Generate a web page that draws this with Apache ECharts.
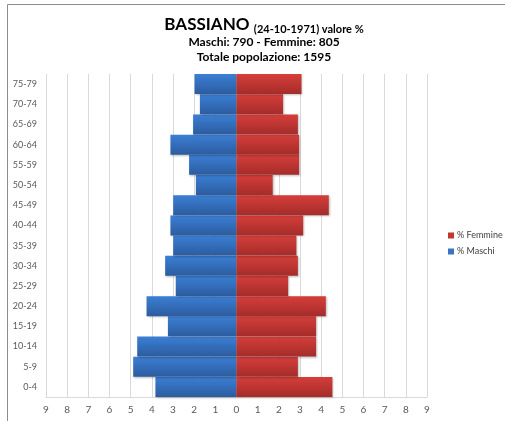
<!DOCTYPE html>
<html>
<head>
<meta charset="utf-8">
<script src="https://cdn.jsdelivr.net/npm/echarts@6/dist/echarts.min.js"></script>
<style>
  html, body { margin: 0; padding: 0; background: #fff; }
  #chart { width: 505px; height: 421px; }
</style>
</head>
<body>
<div id="chart"></div>
<script>
// Age groups, bottom to top
const ageGroups = ['0-4', '5-9', '10-14', '15-19', '20-24', '25-29', '30-34', '35-39',
  '40-44', '45-49', '50-54', '55-59', '60-64', '65-69', '70-74', '75-79'];
// Share of total population (%) per age group
const maschi = [3.83, 4.88, 4.69, 3.24, 4.25, 2.87, 3.37, 2.99,
  3.12, 2.99, 1.92, 2.24, 3.12, 2.05, 1.73, 1.98];
const femmine = [4.53, 2.90, 3.76, 3.76, 4.22, 2.44, 2.90, 2.83,
  3.15, 4.36, 1.71, 2.96, 2.96, 2.90, 2.20, 3.07];
const xTicks = [-9, -8, -7, -6, -5, -4, -3, -2, -1, 0, 1, 2, 3, 4, 5, 6, 7, 8, 9];

const FONT = 'Lato, "Open Sans", sans-serif';

function grad(top, bottom) {
  return new echarts.graphic.LinearGradient(0, 0, 0, 1, [
    { offset: 0, color: top },
    { offset: 1, color: bottom }
  ]);
}

const chart = echarts.init(document.getElementById('chart'), null, { renderer: 'canvas' });
chart.setOption({
  animation: false,
  backgroundColor: '#fff',
  textStyle: { fontFamily: FONT },
  graphic: [{
    type: 'rect',
    shape: { x: 7.5, y: 4.5, width: 600, height: 600 },
    style: { fill: 'none', stroke: '#8c8c8c', lineWidth: 1 },
    silent: true
  }],
  title: {
    left: 259,
    top: 10,
    textAlign: 'center',
    text: '{a|BASSIANO} {b|(24-10-1971) valore %}\n{c|Maschi: 790 - Femmine: 805}\n{c|Totale popolazione: 1595}',
    textStyle: {
      fontFamily: FONT,
      rich: {
        a: { fontSize: 17, fontWeight: 'bold', color: '#000', fontFamily: FONT, lineHeight: 20 },
        b: { fontSize: 11, fontWeight: 'bold', color: '#000', fontFamily: FONT, lineHeight: 20, verticalAlign: 'bottom' },
        c: { fontSize: 12, fontWeight: 'bold', color: '#000', fontFamily: FONT, lineHeight: 15 }
      }
    }
  },
  legend: {
    orient: 'vertical',
    left: 443,
    top: 226,
    itemWidth: 6,
    itemHeight: 6,
    itemGap: 7,
    icon: 'rect',
    textStyle: { fontSize: 9, color: '#404040', fontFamily: FONT, padding: [0, 0, 0, -2] },
    data: [
      { name: '% Femmine', itemStyle: { color: '#c0392f' } },
      { name: '% Maschi', itemStyle: { color: '#3a73c0' } }
    ]
  },
  grid: { left: 46, right: 78, top: 74, bottom: 24, containLabel: false },
  xAxis: {
    type: 'value',
    min: -9,
    max: 9,
    interval: 1,
    axisLine: { show: true, lineStyle: { color: '#d9d9d9' } },
    axisTick: { show: false },
    splitLine: { show: true, lineStyle: { color: '#d9d9d9', width: 1 } },
    axisLabel: {
      color: '#595959',
      fontSize: 10,
      margin: 8,
      fontFamily: FONT,
      customValues: xTicks,
      formatter: v => String(Math.abs(v))
    }
  },
  yAxis: {
    type: 'category',
    data: ageGroups,
    axisLine: { show: false },
    axisTick: { show: false },
    axisLabel: { color: '#595959', fontSize: 9, margin: 9, fontFamily: FONT }
  },
  series: [
    {
      name: '% Maschi',
      type: 'bar',
      stack: 'pop',
      barCategoryGap: '1%',
      data: maschi.map(v => -v),
      itemStyle: {
        color: grad('#3b7fd6', '#2c5c9e'),
        shadowColor: 'rgba(0,0,0,0.25)',
        shadowBlur: 2,
        shadowOffsetX: 1,
        shadowOffsetY: 1
      }
    },
    {
      name: '% Femmine',
      type: 'bar',
      stack: 'pop',
      barCategoryGap: '1%',
      data: femmine,
      itemStyle: {
        color: grad('#d63e3a', '#a42c2a'),
        shadowColor: 'rgba(0,0,0,0.25)',
        shadowBlur: 2,
        shadowOffsetX: 1,
        shadowOffsetY: 1
      }
    }
  ]
});
</script>
</body>
</html>
